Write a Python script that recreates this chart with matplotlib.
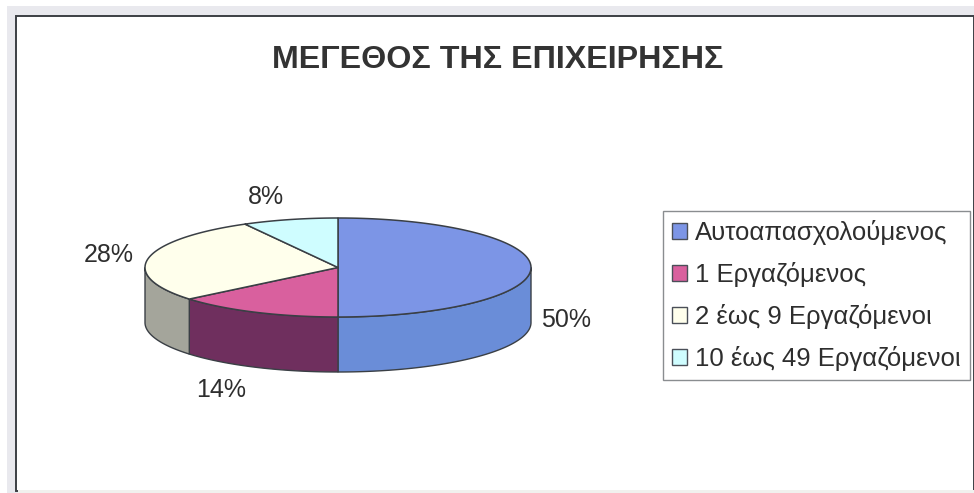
import numpy as np
import matplotlib
matplotlib.use("Agg")
import matplotlib.pyplot as plt
from matplotlib.patches import Patch, Rectangle

title = "ΜΕΓΕΘΟΣ ΤΗΣ ΕΠΙΧΕΙΡΗΣΗΣ"
categories = ["Αυτοαπασχολούμενος", "1 Εργαζόμενος", "2 έως 9 Εργαζόμενοι", "10 έως 49 Εργαζόμενοι"]
values = [50, 14, 28, 8]
top_colors = ["#7C95E6", "#D9609E", "#FFFFEC", "#CFFDFF"]
side_colors = ["#6A8DD8", "#6F2F5E", "#A4A59B", "#8FB0B0"]
edge = "#3A3F45"
text_color = "#2E2E2E"

plt.rcParams["font.family"] = ["Liberation Sans", "DejaVu Sans"]
fig = plt.figure(figsize=(9.74, 4.93), dpi=100, facecolor="white")
ax = fig.add_axes([0, 0, 1, 1])
ax.set_xlim(0, 974)
ax.set_ylim(493, 0)
ax.axis("off")

# scanned frame
ax.add_patch(Rectangle((7, 6), 967, 487, fc="#E9E9EE", ec="none", zorder=0))
ax.add_patch(Rectangle((16, 16), 958, 475, fc="white", ec="#3C3F44", lw=1.4, zorder=1))
ax.add_patch(Rectangle((17.5, 489.5), 957, 4, fc="#F1F1EE", ec="none", zorder=1))

cx, cy, rx, ry, depth = 338, 267.5, 193, 49.5, 55

def pts(t):
    return cx + rx * np.sin(t), cy - ry * np.cos(t)

fractions = np.array(values) / sum(values)
ends = 2 * np.pi * np.cumsum(fractions)
starts = np.r_[0, ends[:-1]]

# side walls (visible front half only)
for a, b, c in zip(starts, ends, side_colors):
    lo, hi = max(a, np.pi / 2), min(b, 3 * np.pi / 2)
    if lo >= hi:
        continue
    t = np.linspace(lo, hi, 120)
    x, y = pts(t)
    ax.fill(np.r_[x, x[::-1]], np.r_[y, y[::-1] + depth], fc=c, ec=edge, lw=1.0, zorder=2)

# top faces
for a, b, c in zip(starts, ends, top_colors):
    t = np.linspace(a, b, 160)
    x, y = pts(t)
    ax.fill(np.r_[cx, x], np.r_[cy, y], fc=c, ec=edge, lw=1.1, zorder=3, joinstyle="round")

ax.text(498, 59.5, title, ha="center", va="center", fontsize=23.2, fontweight="bold", color="#333333")

label_xy = [(566, 320), (221, 390), (109, 255), (266, 197)]
for v, (lx, ly) in zip(values, label_xy):
    ax.text(lx, ly, f"{v}%", ha="center", va="center", fontsize=18, color=text_color)

handles = [Patch(fc=c, ec="#4A4F58", lw=1.0) for c in top_colors]
leg = ax.legend(handles, categories, loc="upper left", bbox_to_anchor=(663 / 974, 1 - 211 / 493),
                bbox_transform=fig.transFigure, fontsize=18.5, labelcolor=text_color, frameon=True,
                fancybox=False, edgecolor="#8A8D90", facecolor="white", framealpha=1,
                borderaxespad=0, handlelength=0.58, handleheight=0.58, handletextpad=0.3,
                labelspacing=0.66, borderpad=0.36)
leg.get_frame().set_linewidth(1.0)
leg.set_zorder(5)

fig.savefig("out.png", dpi=100, facecolor="white")
